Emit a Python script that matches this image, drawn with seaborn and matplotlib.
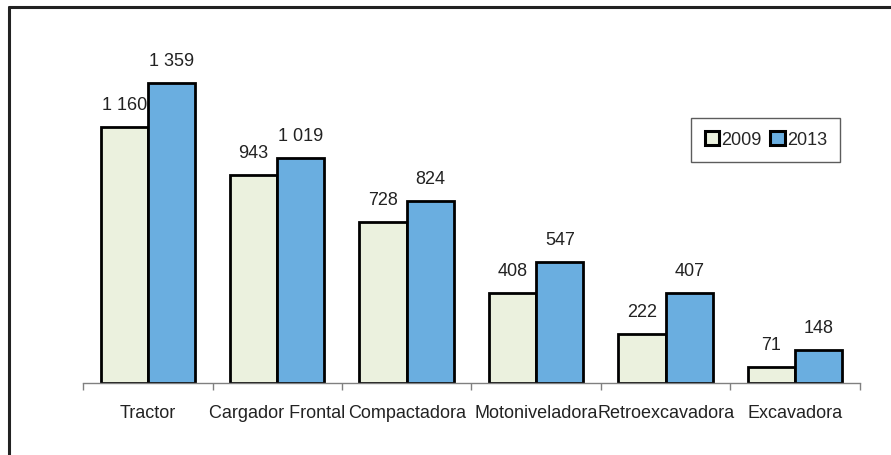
import pandas as pd
import matplotlib.pyplot as plt
import matplotlib.lines as mlines
import seaborn as sns

# --- Dados ---
categorias = ["Tractor", "Cargador Frontal", "Compactadora",
              "Motoniveladora", "Retroexcavadora", "Excavadora"]
valores_2009 = [1160, 943, 728, 408, 222, 71]
valores_2013 = [1359, 1019, 824, 547, 407, 148]
anos = ["2009", "2013"]

VERDE = "#EBF1DE"
AZUL = "#6AAEE0"

df = pd.DataFrame({
    "Categoria": categorias * 2,
    "Ano": [anos[0]] * len(categorias) + [anos[1]] * len(categorias),
    "Valor": valores_2009 + valores_2013,
})

sns.set_style("white")
plt.rcParams["font.family"] = ["Liberation Sans", "DejaVu Sans"]

fig = plt.figure(figsize=(8.91, 4.56), dpi=100, facecolor="white")
ax = fig.add_axes([0.0932, 0.158, 0.8718, 0.774])

sns.barplot(data=df, x="Categoria", y="Valor", hue="Ano",
            palette=[VERDE, AZUL], saturation=1, width=0.73,
            edgecolor="black", linewidth=2, ax=ax, legend=True)

for cont in ax.containers:
    rot = [f"{int(b.get_height()):,}".replace(",", " ") for b in cont]
    ax.bar_label(cont, labels=rot, padding=10, fontsize=13, color="#222")

ax.set_ylim(0, 1600)
ax.set_xlim(-0.5, len(categorias) - 0.5)
ax.set_xlabel("")
ax.set_ylabel("")
ax.set_yticks([])

# ticks nas divisões, rótulos no centro
ax.set_xticks([i - 0.5 for i in range(len(categorias) + 1)])
ax.set_xticklabels([])
ax.set_xticks(range(len(categorias)), minor=True)
ax.set_xticklabels(categorias, minor=True, fontsize=13, color="#222")
ax.tick_params(axis="x", which="major", direction="out", length=5,
               width=1, color="#808080", bottom=True)
ax.tick_params(axis="x", which="minor", length=0, pad=15)

for lado in ["top", "right", "left"]:
    ax.spines[lado].set_visible(False)
ax.spines["bottom"].set_color("#808080")
ax.spines["bottom"].set_linewidth(1)

leg = ax.legend(loc="upper left", bbox_to_anchor=(0.783, 0.752), ncol=2,
                fontsize=13, handlelength=0.8, handleheight=0.8,
                handletextpad=0.1, columnspacing=0.5, borderpad=0.75,
                borderaxespad=0, fancybox=False, frameon=True)
leg.get_frame().set_edgecolor("#333")
leg.get_frame().set_linewidth(1)
for h in leg.legend_handles:
    h.set_linewidth(2.2)

# --- Moldura ---
fig.add_artist(mlines.Line2D([0.0101, 1.0], [0.982, 0.982],
                             color="#222", linewidth=2.2))
fig.add_artist(mlines.Line2D([0.0101, 0.0101], [0.0, 0.982],
                             color="#222", linewidth=2.2))

plt.savefig("out.png", dpi=100, facecolor="white")
